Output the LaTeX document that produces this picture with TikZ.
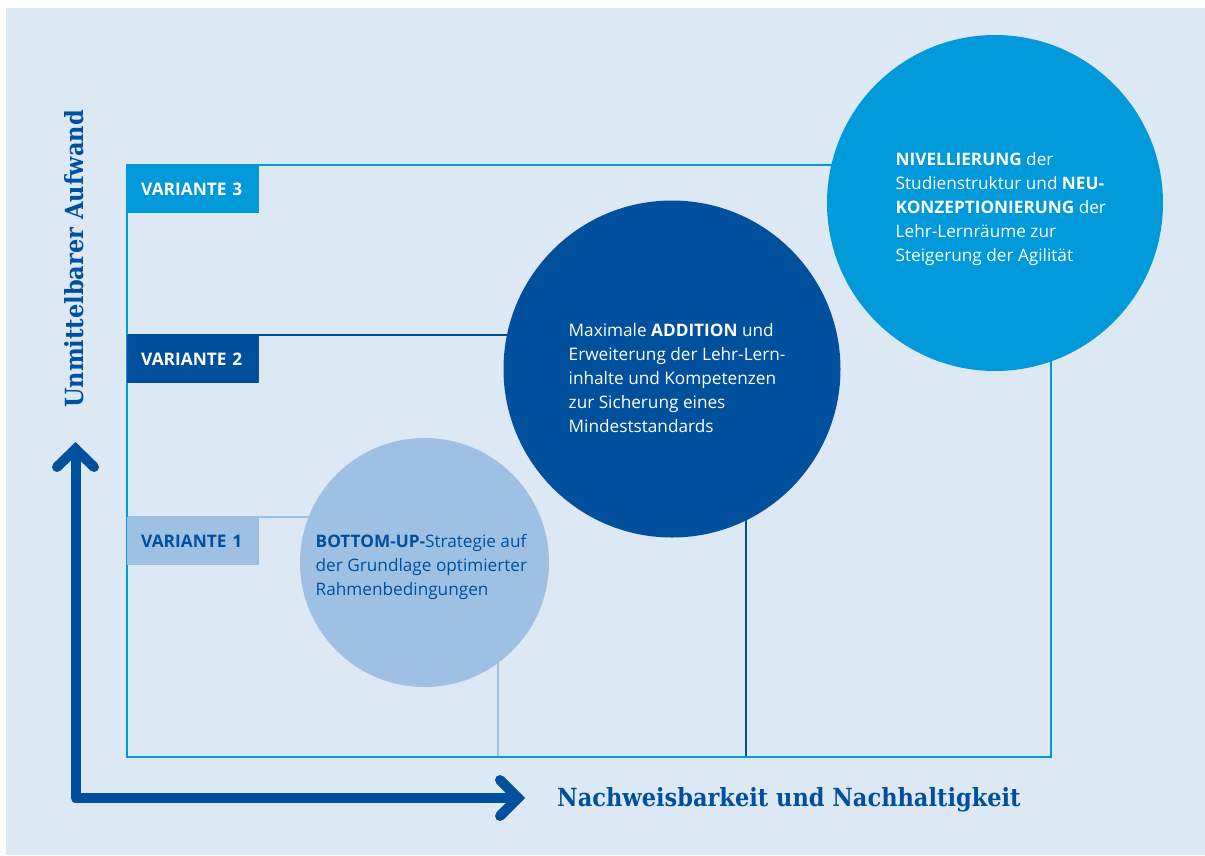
\documentclass[tikz,border=0pt]{standalone}
\usepackage{fontspec}
\setmainfont{Open Sans}
\newfontfamily\axisfont[FakeStretch=0.9]{DejaVu Serif}
\definecolor{bgblue}{RGB}{220,232,244}
\definecolor{cyanblue}{RGB}{0,153,218}
\definecolor{darkblue}{RGB}{0,80,158}
\definecolor{lightblue}{RGB}{158,192,226}
\pgfdeclarelayer{back}
\pgfsetlayers{back,main}
\begin{document}
\begin{tikzpicture}[x=1pt,y=-1pt,
  bubble/.style={circle, inner sep=0pt, minimum size=#1},
  varbox/.style={anchor=north west, text width=104pt, inner xsep=14pt, inner ysep=0pt,
    minimum height=48pt, align=left, font=\fontsize{17.3}{20}\selectfont\bfseries},
  bubbletext/.style={anchor=north west, inner sep=0pt, align=left,
    font=\fontsize{17.2}{24}\selectfont},
  frameline/.style={line width=2.5pt},
  axisline/.style={line width=10pt, draw=darkblue, line join=round, line cap=round},
  axislabel/.style={inner sep=0pt, text=darkblue,
    font=\axisfont\bfseries\fontsize{25}{29}\selectfont}
]
\useasboundingbox (0,0) rectangle (1205,855);

% corner points of the frame
\coordinate (tl) at (127,165);
\coordinate (bl) at (127,757);
\coordinate (br) at (1051,757);
\coordinate (d1) at (498,757);
\coordinate (d2) at (746,757);

% variant labels
\node[varbox, fill=cyanblue, text=white] (v3) at (127,165) {VARIANTE 3};
\node[varbox, fill=darkblue, text=white] (v2) at (127,335) {VARIANTE 2};
\node[varbox, fill=lightblue, text=darkblue] (v1) at (127,517) {VARIANTE 1};

% bubbles
\node[bubble=249pt, fill=lightblue] (c1) at (424.5,562.5) {};
\node[bubble=337pt, fill=darkblue] (c2) at (672,369) {};
\node[bubble=336pt, fill=cyanblue] (c3) at (995,203) {};

\node[bubbletext, text=darkblue] (t1) at (315.5,534)
  {\textbf{BOTTOM-UP-}Strategie auf\\der Grundlage optimierter\\Rahmenbedingungen};
\node[bubbletext, text=white] (t2) at (568.5,323)
  {Maximale \textbf{ADDITION} und\\Erweiterung der Lehr-Lern-\\inhalte und Kompetenzen\\zur Sicherung eines\\Mindeststandards};
\node[bubbletext, text=white] (t3) at (895.5,152)
  {\textbf{NIVELLIERUNG} der\\Studienstruktur und \textbf{NEU-}\\\textbf{KONZEPTIONIERUNG} der\\Lehr-Lernräume zur\\Steigerung der Agilität};

% background and frame lines underneath
\begin{pgfonlayer}{back}
  \fill[white] (0,0) rectangle (1205,855);
  \fill[bgblue] (6,8) rectangle (1205,855);
  \draw[frameline, lightblue] (v1.north west) -- (v1.north west -| c1.center);
  \draw[frameline, lightblue] (d1 |- c1.center) -- (d1);
  \draw[frameline, darkblue] (v2.north west) -- (v2.north west -| c2.center);
  \draw[frameline, darkblue] (d2 |- c2.center) -- (d2);
  \draw[frameline, cyanblue] (c3.center |- tl) -- (tl) -- (bl) -- (br) -- (br |- c3.center);
\end{pgfonlayer}

% axes
\coordinate (origin) at (75.5,798);
\coordinate (ytip) at (75.5,449);
\coordinate (xtip) at (518,798);
\draw[axisline] (ytip) -- (origin) -- (xtip);
\draw[axisline, line join=miter] ([xshift=-18.5pt,yshift=-18pt]ytip) -- (ytip) -- ([xshift=18.5pt,yshift=-18pt]ytip);
\draw[axisline, line join=miter] ([xshift=-18pt,yshift=-18pt]xtip) -- (xtip) -- ([xshift=-18pt,yshift=18pt]xtip);

\node[axislabel, anchor=base west] (xl) at (557,806) {Nachweisbarkeit und Nachhaltigkeit};
\node[axislabel, anchor=base west, rotate=90] (yl) at (83,408) {Unmittelbarer Aufwand};
\end{tikzpicture}
\end{document}
